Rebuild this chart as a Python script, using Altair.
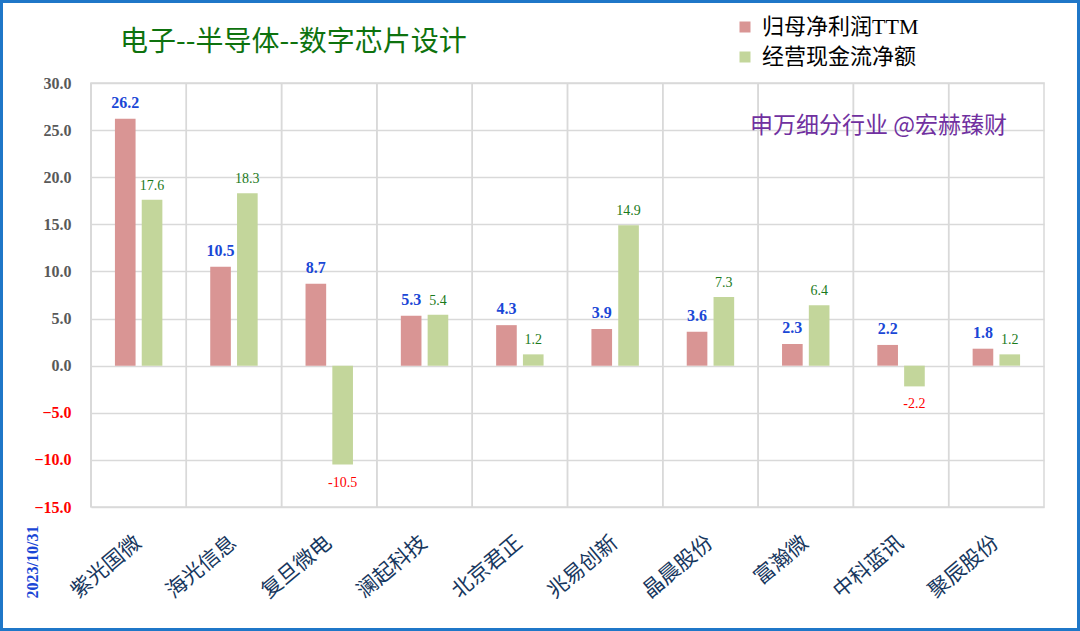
import altair as alt
import pandas as pd

companies = ["紫光国微", "海光信息", "复旦微电", "澜起科技", "北京君正",
             "兆易创新", "晶晨股份", "富瀚微", "中科蓝讯", "聚辰股份"]
series_names = ["归母净利润TTM", "经营现金流净额"]
profit = [26.2, 10.5, 8.7, 5.3, 4.3, 3.9, 3.6, 2.3, 2.2, 1.8]
cashflow = [17.6, 18.3, -10.5, 5.4, 1.2, 14.9, 7.3, 6.4, -2.2, 1.2]
y_ticks = [-15, -10, -5, 0, 5, 10, 15, 20, 25, 30]
colors = ["#D99594", "#C3D69B"]

title_text = "电子--半导体--数字芯片设计"
watermark = "申万细分行业 @宏赫臻财"
date_text = "2023/10/31"

rows = []
for c, p, f in zip(companies, profit, cashflow):
    rows.append({"company": c, "series": series_names[0], "value": p, "label": f"{p:.1f}"})
    rows.append({"company": c, "series": series_names[1], "value": f, "label": f"{f:.1f}"})
df = pd.DataFrame(rows)
one = pd.DataFrame({"k": [0]})

W, H = 953, 424
PL, PT, PR, PB = 91, 83, 36, 124

SERIF = "Liberation Serif"
CJK = "Noto Sans CJK SC"
MIX = "Liberation Serif, Noto Sans CJK SC"

x_enc = alt.X("company:N", sort=companies,
              scale=alt.Scale(paddingInner=0, paddingOuter=0),
              axis=alt.Axis(title=None, domain=False, ticks=False, grid=False,
                            labelAngle=-40, labelAlign="right", labelBaseline="middle",
                            labelPadding=33, labelFont=CJK, labelFontSize=21,
                            labelColor="#17375E"))
y_scale = alt.Scale(domain=[-15, 30], nice=False, zero=False)
xoff = alt.XOffset("series:N", sort=series_names,
                   scale=alt.Scale(paddingInner=0.23, paddingOuter=0.893))

base = alt.Chart(df)

grid_x = base.mark_rule(color="#D9D9D9", strokeWidth=1.5).encode(
    x=alt.X("company:N", sort=companies, bandPosition=0)
)

bars = base.mark_bar(strokeWidth=0).encode(
    x=x_enc,
    xOffset=xoff,
    y=alt.Y("value:Q", scale=y_scale,
            axis=alt.Axis(title=None, values=y_ticks, format=".1f", domain=False,
                          ticks=False, tickSize=0, labelPadding=20,
                          grid=True, gridColor="#D9D9D9", gridWidth=1.5,
                          labelFont=SERIF, labelFontSize=16, labelFontWeight="bold",
                          labelColor=alt.expr("datum.value < 0 ? '#FF0000' : '#595959'"))),
    color=alt.Color("series:N", sort=series_names,
                    scale=alt.Scale(domain=series_names, range=colors),
                    legend=alt.Legend(title=None, orient="none", legendX=643, legendY=-67,
                                      symbolType="square", symbolSize=121,
                                      symbolStrokeWidth=0, labelFont=MIX,
                                      labelFontSize=22, labelColor="#000000",
                                      labelOffset=6, rowPadding=8, padding=0)),
)

lab_profit = base.transform_filter(
    alt.datum.series == series_names[0]
).mark_text(font=SERIF, fontSize=16, fontWeight="bold", color="#1A47D6",
            baseline="alphabetic", dy=-11).encode(
    x=alt.X("company:N", sort=companies), xOffset=xoff,
    y=alt.Y("value:Q", scale=y_scale), text="label:N")

lab_cash_pos = base.transform_filter(
    (alt.datum.series == series_names[1]) & (alt.datum.value >= 0)
).mark_text(font=SERIF, fontSize=14, color="#1B7A1B",
            baseline="alphabetic", dy=-10).encode(
    x=alt.X("company:N", sort=companies), xOffset=xoff,
    y=alt.Y("value:Q", scale=y_scale), text="label:N")

lab_cash_neg = base.transform_filter(
    (alt.datum.series == series_names[1]) & (alt.datum.value < 0)
).mark_text(font=SERIF, fontSize=14, color="#FF0000",
            baseline="top", dy=11).encode(
    x=alt.X("company:N", sort=companies), xOffset=xoff,
    y=alt.Y("value:Q", scale=y_scale), text="label:N")

dec = alt.Chart(one)
title_mark = dec.mark_text(font=CJK, fontSize=28, color="#0E720E", align="left",
                           baseline="alphabetic").encode(
    x=alt.value(29), y=alt.value(-32), text=alt.value(title_text))
wm_mark = dec.mark_text(font=CJK, fontSize=23, color="#7030A0", align="left",
                        baseline="alphabetic").encode(
    x=alt.value(659), y=alt.value(50), text=alt.value(watermark))
date_mark = dec.mark_text(font=SERIF, fontSize=16, fontWeight="bold", color="#1A47D6",
                          angle=270, align="center", baseline="middle").encode(
    x=alt.value(-58), y=alt.value(479), text=alt.value(date_text))
border = dec.mark_rect(filled=False, stroke="#1F77C8", strokeWidth=3).encode(
    x=alt.value(-PL + 1.5), x2=alt.value(W + PR - 1.5),
    y=alt.value(-PT + 1.5), y2=alt.value(H + PB - 1.5))

chart = alt.layer(
    grid_x, bars, lab_profit, lab_cash_pos, lab_cash_neg,
    title_mark, wm_mark, date_mark, border
).properties(
    width=W, height=H,
    autosize=alt.AutoSizeParams(type="none"),
    padding={"left": PL, "top": PT, "right": PR, "bottom": PB},
    background="white",
).configure_view(stroke="#D9D9D9", strokeWidth=1.5)

chart.save("out.html", embed_options={"renderer": "svg", "actions": False})
